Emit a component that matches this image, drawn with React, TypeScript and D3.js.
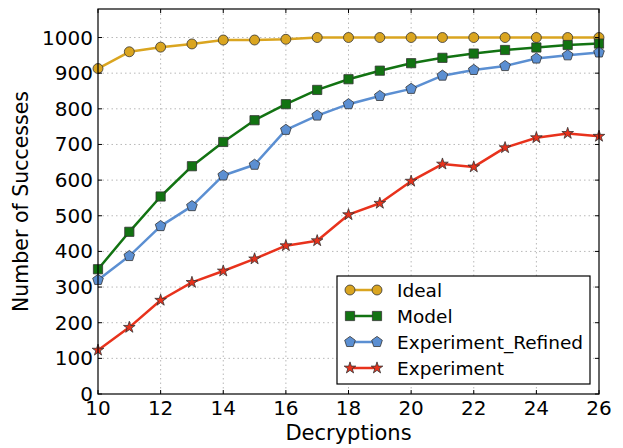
import React, { useEffect, useRef } from 'react';
import * as d3 from 'd3';

const decryptions = [10, 11, 12, 13, 14, 15, 16, 17, 18, 19, 20, 21, 22, 23, 24, 25, 26];
const ideal = [913, 960, 973, 982, 993, 993, 995, 1000, 1000, 1000, 1000, 1000, 1000, 1000, 1000, 1000, 1000];
const model = [350, 455, 554, 639, 707, 768, 813, 853, 883, 907, 928, 943, 955, 965, 972, 979, 983];
const refined = [320, 387, 471, 527, 613, 643, 741, 781, 813, 836, 856, 893, 909, 920, 941, 950, 958];
const experiment = [123, 187, 263, 313, 345, 379, 416, 430, 503, 535, 597, 645, 637, 691, 719, 731, 723];
const xTicks = [10, 12, 14, 16, 18, 20, 22, 24, 26];
const yTicks = [0, 100, 200, 300, 400, 500, 600, 700, 800, 900, 1000];

const W = 623;
const H = 448;
const margin = { left: 98, right: 24, top: 9, bottom: 54 };
const font = 'DejaVu Sans, sans-serif';

const series = [
	{ name: 'Ideal', values: ideal, color: '#daa520', width: 2.5, marker: 'circle' },
	{ name: 'Model', values: model, color: '#127312', width: 2.5, marker: 'square' },
	{ name: 'Experiment_Refined', values: refined, color: '#5b8fd2', width: 2.5, marker: 'pentagon' },
	{ name: 'Experiment', values: experiment, color: '#e8321c', width: 2.5, marker: 'star' }
];

const pentagon = (r: number) => {
	const pts = d3.range(5).map(i => {
		const a = -Math.PI / 2 + (i * 2 * Math.PI) / 5;
		return [r * Math.cos(a), r * Math.sin(a)];
	});
	return 'M' + pts.map(p => p.join(',')).join('L') + 'Z';
};

const markerPath = (m: string) => {
	if (m === 'circle') return d3.symbol(d3.symbolCircle, 78)();
	if (m === 'square') return d3.symbol(d3.symbolSquare, 85)();
	if (m === 'pentagon') return pentagon(5.6);
	return d3.symbol(d3.symbolStar, 42)();
};

const App = () => {
	const ref = useRef<SVGSVGElement>(null);

	useEffect(() => {
		const svg = d3.select(ref.current);
		svg.selectAll('*').remove();

		const x = d3
			.scaleLinear()
			.domain([10, 26])
			.range([margin.left, W - margin.right]);
		const y = d3
			.scaleLinear()
			.domain([0, 1080])
			.range([H - margin.bottom, margin.top]);

		const x0 = margin.left;
		const x1 = W - margin.right;
		const y0 = H - margin.bottom;
		const y1 = margin.top;

		// grid
		const grid = svg.append('g').attr('stroke', '#b8b8b8').attr('stroke-width', 1).attr('stroke-dasharray', '1.5,3');
		xTicks.slice(1, -1).forEach(t => {
			grid.append('line').attr('x1', x(t)).attr('x2', x(t)).attr('y1', y1).attr('y2', y0);
		});
		yTicks.slice(1).forEach(t => {
			grid.append('line').attr('x1', x0).attr('x2', x1).attr('y1', y(t)).attr('y2', y(t));
		});

		// lines + markers
		series.forEach(s => {
			const line = d3
				.line<number>()
				.x((_, i) => x(decryptions[i]))
				.y(d => y(d));
			svg.append('path')
				.datum(s.values)
				.attr('d', line)
				.attr('fill', 'none')
				.attr('stroke', s.color)
				.attr('stroke-width', s.width)
				.attr('stroke-linejoin', 'round');
			svg.append('g')
				.selectAll('path')
				.data(s.values)
				.enter()
				.append('path')
				.attr('d', markerPath(s.marker))
				.attr('transform', (d, i) => `translate(${x(decryptions[i])},${y(d)})`)
				.attr('fill', s.color)
				.attr('stroke', '#333')
				.attr('stroke-width', 0.8);
		});

		// frame
		svg.append('rect')
			.attr('x', x0)
			.attr('y', y1)
			.attr('width', x1 - x0)
			.attr('height', y0 - y1)
			.attr('fill', 'none')
			.attr('stroke', '#000')
			.attr('stroke-width', 1.2);

		// inward ticks
		const ticks = svg.append('g').attr('stroke', '#000').attr('stroke-width', 1);
		xTicks.forEach(t => {
			ticks.append('line').attr('x1', x(t)).attr('x2', x(t)).attr('y1', y0).attr('y2', y0 - 4);
			ticks.append('line').attr('x1', x(t)).attr('x2', x(t)).attr('y1', y1).attr('y2', y1 + 4);
		});
		yTicks.forEach(t => {
			ticks.append('line').attr('x1', x0).attr('x2', x0 + 4).attr('y1', y(t)).attr('y2', y(t));
			ticks.append('line').attr('x1', x1).attr('x2', x1 - 4).attr('y1', y(t)).attr('y2', y(t));
		});

		// tick labels
		svg.append('g')
			.selectAll('text')
			.data(xTicks)
			.enter()
			.append('text')
			.attr('x', d => x(d))
			.attr('y', y0 + 21)
			.attr('text-anchor', 'middle')
			.style('font-family', font)
			.style('font-size', '20px')
			.text(d => d);
		svg.append('g')
			.selectAll('text')
			.data(yTicks)
			.enter()
			.append('text')
			.attr('x', x0 - 5)
			.attr('y', d => y(d) + 7)
			.attr('text-anchor', 'end')
			.style('font-family', font)
			.style('font-size', '20px')
			.text(d => d);

		// axis labels
		svg.append('text')
			.attr('x', (x0 + x1) / 2)
			.attr('y', 440)
			.attr('text-anchor', 'middle')
			.style('font-family', font)
			.style('font-size', '21px')
			.text('Decryptions');
		svg.append('text')
			.attr('transform', `translate(28,${(y0 + y1) / 2}) rotate(-90)`)
			.attr('text-anchor', 'middle')
			.style('font-family', font)
			.style('font-size', '20.5px')
			.text('Number of Successes');

		// legend
		const lg = svg.append('g');
		lg.append('rect')
			.attr('x', 337)
			.attr('y', 276)
			.attr('width', 253)
			.attr('height', 108)
			.attr('fill', '#fff')
			.attr('stroke', '#000')
			.attr('stroke-width', 1.2);
		series.forEach((s, i) => {
			const cy = 290 + i * 26;
			lg.append('line')
				.attr('x1', 350)
				.attr('x2', 377)
				.attr('y1', cy)
				.attr('y2', cy)
				.attr('stroke', s.color)
				.attr('stroke-width', s.width);
			[350, 377].forEach(px => {
				lg.append('path')
					.attr('d', markerPath(s.marker))
					.attr('transform', `translate(${px},${cy})`)
					.attr('fill', s.color)
					.attr('stroke', '#333')
					.attr('stroke-width', 0.8);
			});
			lg.append('text')
				.attr('x', 397)
				.attr('y', cy + 7)
				.style('font-family', font)
				.style('font-size', '18.5px')
				.text(s.name);
		});
	}, []);

	return (
		<svg
			ref={ref}
			width={W}
			height={H}
			style={{ position: 'absolute', left: 0, top: 0, background: '#fff' }}
		/>
	);
};

export default App;
